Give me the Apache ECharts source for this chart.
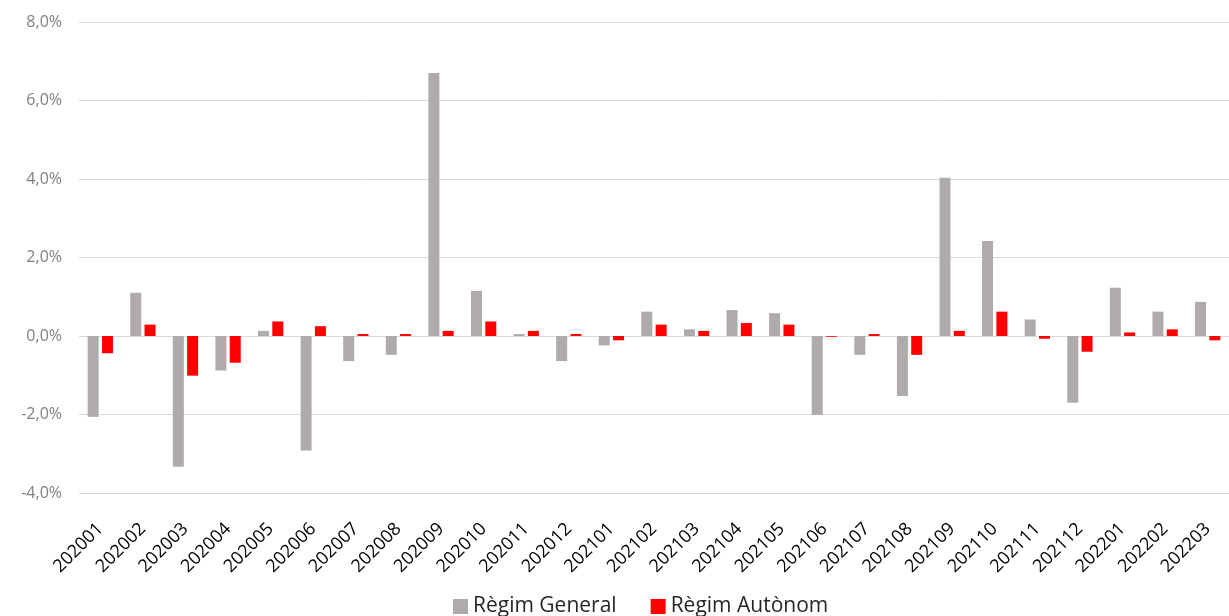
<!DOCTYPE html>
<html><head><meta charset="utf-8">
<script src="https://cdn.jsdelivr.net/npm/echarts@6/dist/echarts.min.js"></script>
<style>html,body{margin:0;padding:0;background:#fff}#c{width:1229px;height:616px}</style>
</head><body><div id="c"></div>
<script>
var categories = ['202001','202002','202003','202004','202005','202006','202007','202008','202009','202010','202011','202012','202101','202102','202103','202104','202105','202106','202107','202108','202109','202110','202111','202112','202201','202202','202203'];
var regimGeneral = [-2.06,1.10,-3.33,-0.88,0.13,-2.92,-0.64,-0.48,6.70,1.15,0.05,-0.64,-0.24,0.62,0.17,0.66,0.58,-2.01,-0.48,-1.53,4.03,2.42,0.42,-1.70,1.23,0.62,0.87];
var regimAutonom = [-0.44,0.29,-1.01,-0.68,0.37,0.25,0.05,0.05,0.13,0.37,0.13,0.05,-0.11,0.29,0.13,0.33,0.29,-0.02,0.05,-0.48,0.13,0.62,-0.07,-0.40,0.09,0.17,-0.11];
var seriesNames = ['Règim General','Règim Autònom'];
var chart = echarts.init(document.getElementById('c'));
chart.setOption({
  animation:false,
  textStyle:{fontFamily:'Open Sans'},
  grid:{left:79,top:22,width:1160,height:471,containLabel:false},
  legend:{top:591,left:448,itemWidth:15,itemHeight:15,itemGap:34,icon:'rect',
    textStyle:{fontSize:21,color:'#262626',fontFamily:'Open Sans'},data:seriesNames},
  xAxis:{type:'category',data:categories,
    axisLine:{onZero:false,show:false},axisTick:{show:false},
    axisLabel:{rotate:45,fontSize:18,color:'#000000',margin:33,interval:0}},
  yAxis:{type:'value',min:-4,max:8,interval:2,
    axisLine:{show:false},axisTick:{show:false},
    splitLine:{lineStyle:{color:'#d9d9d9',width:1}},
    axisLabel:{fontSize:16,color:'#808080',margin:17,formatter:function(v){return v.toFixed(1).replace('.',',')+'%';}}},
  series:[
    {name:seriesNames[0],type:'bar',data:regimGeneral,barWidth:11,barGap:'30%',itemStyle:{color:'#afabab'}},
    {name:seriesNames[1],type:'bar',data:regimAutonom,barWidth:11,itemStyle:{color:'#ff0000'}}
  ]
});
</script></body></html>
